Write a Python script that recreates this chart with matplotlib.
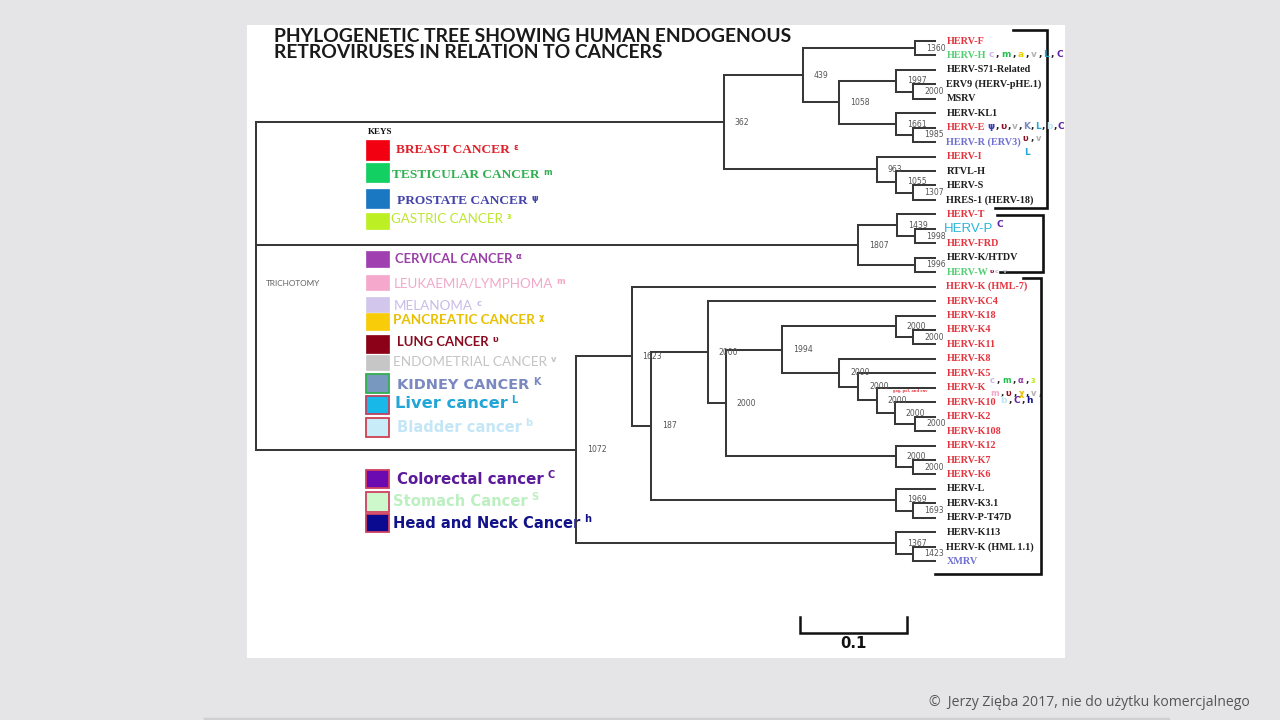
import matplotlib
matplotlib.use("Agg")
import matplotlib.pyplot as plt
from matplotlib.patches import Rectangle

# ---------------- data ----------------
leaves = ["HERV-F", "HERV-H", "HERV-S71-Related", "ERV9 (HERV-pHE.1)", "MSRV",
          "HERV-KL1", "HERV-E", "HERV-R (ERV3)", "HERV-I", "RTVL-H", "HERV-S",
          "HRES-1 (HERV-18)", "HERV-T", "HERV-P", "HERV-FRD", "HERV-K/HTDV",
          "HERV-W", "HERV-K (HML-7)", "HERV-KC4", "HERV-K18", "HERV-K4",
          "HERV-K11", "HERV-K8", "HERV-K5", "HERV-K", "HERV-K10", "HERV-K2",
          "HERV-K108", "HERV-K12", "HERV-K7", "HERV-K6", "HERV-L", "HERV-K3.1",
          "HERV-P-T47D", "HERV-K113", "HERV-K (HML 1.1)", "XMRV"]
RED, BLK, GRN, PUR, CYN = "#e5343e", "#1e1e1e", "#52cf72", "#6f6fd2", "#2ab4dc"
leaf_colors = [RED, GRN, BLK, BLK, BLK, BLK, RED, PUR, RED, BLK, BLK, BLK,
               RED, CYN, RED, BLK, GRN, RED, RED, RED, RED, RED, RED, RED,
               RED, RED, RED, RED, RED, RED, RED, BLK, BLK, BLK, BLK, BLK, PUR]

node_names = ["root", "A", "A1", "FH", "A2", "S71n", "ERVn", "KL1n", "ERn", "In",
              "RTn", "SHn", "B", "Tn", "PFn", "KWn", "C", "C1", "C2", "C3", "C4",
              "K94", "K18n", "K4n", "K8n", "K5n", "Kn", "K10n", "K2n", "K12n",
              "K7n", "Ln", "K31n", "K113n", "HMLn"]
node_depth = [0.0, 0.437, 0.511, 0.616, 0.545, 0.598, 0.614, 0.598, 0.614, 0.580,
              0.598, 0.614, 0.563, 0.599, 0.616, 0.616, 0.299, 0.351, 0.369, 0.422,
              0.439, 0.492, 0.598, 0.614, 0.545, 0.563, 0.580, 0.597, 0.616, 0.598,
              0.614, 0.598, 0.614, 0.598, 0.614]
node_support = ["", "362", "439", "1360", "1058", "1997", "2000", "1661", "1985",
                "963", "1055", "1307", "1807", "1439", "1998", "1996", "1072",
                "1623", "187", "2000", "2000", "1994", "2000", "2000", "2000",
                "2000", "2000", "2000", "2000", "2000", "2000", "1969", "1693",
                "1367", "1423"]
node_children = [
    ["A", "B", "C"], ["A1", "In"], ["FH", "A2"], ["HERV-F", "HERV-H"],
    ["S71n", "KL1n"], ["HERV-S71-Related", "ERVn"], ["ERV9 (HERV-pHE.1)", "MSRV"],
    ["HERV-KL1", "ERn"], ["HERV-E", "HERV-R (ERV3)"], ["HERV-I", "RTn"],
    ["RTVL-H", "SHn"], ["HERV-S", "HRES-1 (HERV-18)"], ["Tn", "KWn"],
    ["HERV-T", "PFn"], ["HERV-P", "HERV-FRD"], ["HERV-K/HTDV", "HERV-W"],
    ["C1", "K113n"], ["HERV-K (HML-7)", "C2"], ["C3", "Ln"], ["HERV-KC4", "C4"],
    ["K94", "K12n"], ["K18n", "K8n"], ["HERV-K18", "K4n"], ["HERV-K4", "HERV-K11"],
    ["HERV-K8", "K5n"], ["HERV-K5", "Kn"], ["HERV-K", "K10n"], ["HERV-K10", "K2n"],
    ["HERV-K2", "HERV-K108"], ["HERV-K12", "K7n"], ["HERV-K7", "HERV-K6"],
    ["HERV-L", "K31n"], ["HERV-K3.1", "HERV-P-T47D"], ["HERV-K113", "HMLn"],
    ["HERV-K (HML 1.1)", "XMRV"]]
tip_depth = 0.635
scale_length = 0.1

cancer_names = ["BREAST CANCER", "TESTICULAR CANCER", "PROSTATE CANCER",
                "GASTRIC CANCER", "CERVICAL CANCER", "LEUKAEMIA/LYMPHOMA",
                "MELANOMA", "PANCREATIC CANCER", "LUNG CANCER",
                "ENDOMETRIAL CANCER", "KIDNEY CANCER", "Liver cancer",
                "Bladder cancer", "Colorectal cancer", "Stomach Cancer",
                "Head and Neck Cancer"]
cancer_marks = ["ε", "m", "ψ", "ɜ", "α", "m", "c", "χ", "υ", "v", "K", "L",
                "b", "C", "S", "h"]
cancer_fill = ["#f20012", "#12d062", "#1a78c2", "#bcf024", "#a040b0", "#f5a8cc",
               "#d2c6ec", "#f8cc08", "#8c0018", "#c6c6c6", "#7898c0", "#18b8e8",
               "#c8ecf8", "#6a0ab0", "#ccf8cc", "#0a0a90"]
cancer_edge = [None, None, None, None, None, None, None, None, None, None,
               "#30b050", "#c04060", "#d04050", "#d04060", "#d04060", "#d04060"]
cancer_text = ["#e0202a", "#30b050", "#4444aa", "#bce830", "#9a40a8", "#f2a8c8",
               "#c8bce8", "#e8c000", "#8a0a20", "#c4c4c4", "#7a88c0", "#22a6d8",
               "#c4e6f6", "#5a1a9a", "#bcf0c0", "#12128a"]

# cancer marks beside leaves (symbol, colour)
marks_H = [("c", "#c8b8e8"), (",", BLK), ("m", "#20c050"), (",", BLK),
           ("a", "#e8d000"), (",", BLK), ("v", "#b0b0b0"), (",", BLK),
           ("L", "#20a8d8"), (",", BLK), ("C", "#6020a0")]
marks_E = [("ψ", "#3a3ab0"), (",", BLK), ("υ", "#8a0a20"), (",", BLK),
           ("v", "#b0b0b0"), (",", BLK), ("K", "#7a88c0"), (",", BLK),
           ("L", "#20a8d8"), (",", BLK), ("b", "#c0e4f4"), (",", BLK),
           ("C", "#6020a0")]
marks_R = [("υ", "#8a0a20"), (",", BLK), ("v", "#b0b0b0")]
marks_P = [("C", "#6020a0")]
marks_W = [("υ", "#8a0a20"), ("c", "#c8b8e8"), (",", BLK), ("v", "#b0b0b0")]
marks_K1 = [("c", "#c8b8e8"), (",", BLK), ("m", "#20c050"), (",", BLK),
            ("α", "#9a40a8"), (",", BLK), ("ɜ", "#bce830")]
marks_K2 = [("m", "#f2a8c8"), (",", BLK), ("υ", "#8a0a20"), (",", BLK),
            ("χ", "#e8c000"), (",", BLK), ("v", "#b0b0b0"), (",", BLK)]
marks_K10 = [("b", "#c0e4f4"), (",", BLK), ("C", "#6020a0"), (",", BLK),
             ("h", "#12128a")]

# ---------------- figure ----------------
fig = plt.figure(figsize=(12.8, 7.2), dpi=100)
fig.patch.set_facecolor("#e5e5e7")
bg = fig.add_axes([0, 0, 1, 1])
bg.set_xlim(0, 1280)
bg.set_ylim(720, 0)
bg.axis("off")
bg.add_patch(Rectangle((247, 25), 818, 633, facecolor="white", edgecolor="none"))
bg.plot([205, 1168], [718.5, 718.5], color="#cfcfd2", lw=2.5)

ax = fig.add_axes([0, 0, 1, 1])
ax.patch.set_alpha(0)
ax.axis("off")
X0, PXU, Y0, DY = 256, 1070.0, 41.0, 14.45
ax.set_xlim(-X0 / PXU, (1280 - X0) / PXU)
ax.set_ylim((720 - Y0) / DY, -Y0 / DY)


def px(p):
    return (p - X0) / PXU


renderer = fig.canvas.get_renderer()


def fit(t, w):
    bb = t.get_window_extent(renderer)
    if bb.width > 0:
        t.set_fontsize(t.get_fontsize() * w / bb.width)
    return t


def chain(axis, anchor, items, fs, dx=1.0, dy=0.0, gap=0.6, weight="bold",
          xy=(1, 0), va="bottom"):
    prev = anchor
    for k, (s, c) in enumerate(items):
        t = axis.annotate(s, xy=xy if k == 0 else (1, 0), xycoords=prev,
                          xytext=(dx if k == 0 else gap, dy if k == 0 else 0),
                          textcoords="offset points", fontsize=fs, color=c,
                          ha="left", va=va if k == 0 else "bottom",
                          fontweight=weight, family="DejaVu Sans")
        prev = t
    return prev


# ---------------- tree ----------------
LC, LW = "#383838", 1.45
idx = {n: i for i, n in enumerate(leaves)}
nodes = {n: (d, c, s) for n, d, c, s in
         zip(node_names, node_depth, node_children, node_support)}


def gety(n):
    if n in idx:
        return idx[n]
    ys = [gety(ch) for ch in nodes[n][1]]
    return (min(ys) + max(ys)) / 2


def getd(n):
    return tip_depth if n in idx else nodes[n][0]


for n in node_names:
    d, ch, s = nodes[n]
    ys = [gety(c) for c in ch]
    ax.plot([d, d], [min(ys), max(ys)], color=LC, lw=LW,
            solid_capstyle="projecting")
    for c, yc in zip(ch, ys):
        ax.plot([d, getd(c)], [yc, yc], color=LC, lw=LW,
                solid_capstyle="projecting")
    if s:
        ax.text(d + 11 / PXU, gety(n), s, fontsize=5.6, color="#555555",
                ha="left", va="center", family="DejaVu Sans")

leaf_txt = {}
for i, (name, col) in enumerate(zip(leaves, leaf_colors)):
    if name == "HERV-P":
        t = ax.text(tip_depth + 8 / PXU, i, name, fontsize=9.5, color=col,
                    ha="left", va="center", family="Liberation Sans")
    else:
        t = ax.text(tip_depth + 11 / PXU, i, name, fontsize=7.3, color=col,
                    ha="left", va="center", family="Liberation Serif",
                    fontweight="bold")
    leaf_txt[name] = t

chain(ax, leaf_txt["HERV-H"], marks_H, 6.5, dx=2, dy=1, gap=1.3)
chain(ax, leaf_txt["HERV-E"], marks_E, 6.5, dx=2, dy=1, gap=0.7)
chain(ax, leaf_txt["HERV-R (ERV3)"], marks_R, 6, dx=1, dy=3, gap=1.5)
ax.annotate("L", xy=(1, 0), xycoords=leaf_txt["HERV-R (ERV3)"], xytext=(2, -6),
            textcoords="offset points", fontsize=6.5, color="#20a8d8",
            fontweight="bold", family="DejaVu Sans")
chain(ax, leaf_txt["HERV-P"], marks_P, 6.5, dx=3, dy=4)
chain(ax, leaf_txt["HERV-W"], marks_W, 4.5, dx=1, dy=2, gap=0.8)
chain(ax, leaf_txt["HERV-K"], marks_K1, 6, dx=3, dy=5, gap=1.4)
chain(ax, leaf_txt["HERV-K"], marks_K2, 6, dx=3, dy=-4, gap=1.4)
chain(ax, leaf_txt["HERV-K10"], marks_K10, 6.5, dx=3, dy=1, gap=1.2)
ax.text(px(893), (391 - Y0) / DY, "gag, pol, and env", fontsize=3.4,
        color="#e5343e", ha="left", va="center", family="Liberation Serif",
        fontweight="bold")

# group brackets on the right (leaf ranges)
groups = [(0, 11), (12, 16), (17, 36)]
br_x = [(1013, 1047, 995), (997, 1043, 1000), (1023, 1041, 935)]
br_pad = [(-0.76, 0.55), (0.05, 0.0), (-0.6, 0.9)]
for (a, b), (xt, xr, xb), (pa, pb) in zip(groups, br_x, br_pad):
    ax.plot([px(xt), px(xr), px(xr), px(xb)], [a + pa, a + pa, b + pb, b + pb],
            color="#111111", lw=1.9, solid_joinstyle="miter")

# scale bar
sx0 = px(800)
sy = (633 - Y0) / DY
ty = (617 - Y0) / DY
ax.plot([sx0, sx0, sx0 + scale_length, sx0 + scale_length], [ty, sy, sy, ty],
        color="#111111", lw=1.8, solid_joinstyle="miter")
t = ax.text(sx0 + scale_length / 2, (643 - Y0) / DY, f"{scale_length:g}",
            ha="center", va="center", fontweight="bold", fontsize=11,
            family="DejaVu Sans", color="#111111")
fit(t, 26)

# ---------------- title & labels ----------------
t1 = bg.text(274, 36, "PHYLOGENETIC TREE SHOWING HUMAN ENDOGENOUS", ha="left",
             va="center", fontweight="bold", family="Lato", fontsize=11,
             color="#1a1a1a")
fit(t1, 519)
t2 = bg.text(274, 53, "RETROVIRUSES IN RELATION TO CANCERS", ha="left",
             va="center", fontweight="bold", family="Lato",
             fontsize=t1.get_fontsize(), color="#1a1a1a")
t = bg.text(266, 284, "TRICHOTOMY", ha="left", va="center", family="Lato",
            fontsize=5, color="#606060")
fit(t, 55)
bg.text(368, 132, "KEYS", ha="left", va="center", family="Liberation Serif",
        fontweight="bold", fontsize=6.5, color="#111111")

# ---------------- legend ----------------
sq_y = [150, 172.5, 198.5, 221, 259, 282.5, 304.5, 321.5, 344, 362.5, 383.5,
        405, 427.5, 479, 502, 523]
sq_h = [20, 19, 19, 16, 16, 15, 15, 17, 18, 15, 19, 18, 19, 18, 20, 18]
tx_x = [396, 392, 397, 391, 395, 394, 394, 393, 397, 393, 397, 395, 397, 397,
        393, 393]
tx_y = [150, 175, 201, 219, 259, 284, 306, 320, 342, 362, 385, 404, 427, 479,
        501, 523]
tx_w = [114, 148, 131, 111, 118, 159, 79, 142, 92, 153, 131, 112, 125, 147,
        135, 188]
tx_fam = ["Liberation Serif"] * 3 + ["Lato"] * 7 + ["DejaVu Sans"] * 6
tx_bold = [True, True, True, False, True, False, False, True, True, False,
           True, True, True, True, True, True]
for k, name in enumerate(cancer_names):
    ec = cancer_edge[k]
    bg.add_patch(Rectangle((366, sq_y[k] - sq_h[k] / 2), 23, sq_h[k],
                           facecolor=cancer_fill[k],
                           edgecolor=ec if ec else cancer_fill[k],
                           lw=1.3 if ec else 0.5))
    t = bg.text(tx_x[k], tx_y[k], name, ha="left", va="center",
                family=tx_fam[k], fontweight="bold" if tx_bold[k] else "normal",
                fontsize=9, color=cancer_text[k])
    fit(t, tx_w[k])
    bg.annotate(cancer_marks[k], xy=(1, 1), xycoords=t, xytext=(2.5, 1),
                textcoords="offset points", ha="left", va="top",
                fontsize=6 if k < 10 else 7, fontweight="bold",
                color=cancer_text[k], family="DejaVu Sans")

# footer
t = bg.text(1250, 703, "©  Jerzy Zięba 2017, nie do użytku komercjalnego",
            ha="right", va="center", family="Open Sans", fontsize=10,
            color="#555555")
fit(t, 320)

fig.savefig("out.png", dpi=100, facecolor=fig.get_facecolor())
